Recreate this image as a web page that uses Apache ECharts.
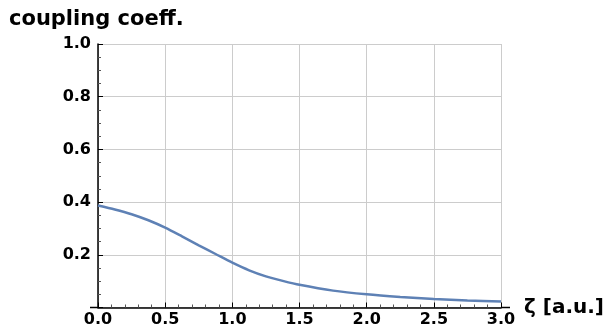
<!DOCTYPE html>
<html>
<head>
<meta charset="utf-8">
<script src="https://cdn.jsdelivr.net/npm/echarts@6/dist/echarts.min.js"></script>
<style>
html,body{margin:0;padding:0;background:#fff;}
#chart{width:607px;height:335px;}
</style>
</head>
<body>
<div id="chart"></div>
<script>
const xVals = [0, 0.125, 0.25, 0.375, 0.5, 0.625, 0.75, 0.875, 1.0, 1.125, 1.25, 1.375, 1.5, 1.75, 2.0, 2.25, 2.5, 2.75, 3.0];
const yVals = [0.387, 0.372, 0.354, 0.331, 0.303, 0.270, 0.236, 0.203, 0.170, 0.141, 0.118, 0.101, 0.086, 0.064, 0.050, 0.040, 0.032, 0.027, 0.023];
const titleText = 'coupling coeff.';
const xName = 'ζ [a.u.]';

const FONT = 'DejaVu Sans';
const chart = echarts.init(document.getElementById('chart'), null, {renderer: 'canvas'});
const data = xVals.map((x, i) => [x, yVals[i]]);

const option = {
  animation: false,
  backgroundColor: '#fff',
  title: {
    text: titleText,
    left: 9, top: 9, padding: 0,
    textStyle: {fontFamily: FONT, fontWeight: 'bold', fontSize: 21, color: '#000'}
  },
  grid: {left: 98, right: 104, top: 44, bottom: 27.5, containLabel: false},
  xAxis: {
    type: 'value', min: 0, max: 3, interval: 0.5,
    name: xName, nameLocation: 'end', nameGap: 23,
    nameTextStyle: {fontFamily: FONT, fontWeight: 'bold', fontSize: 20, color: '#000', verticalAlign: 'middle'},
    axisLine: {show: true, onZero: false, lineStyle: {color: '#000', width: 1.5}},
    axisTick: {show: true, inside: true, length: 5, lineStyle: {color: '#000', width: 1}},
    minorTick: {show: true, splitNumber: 5, length: 3, lineStyle: {color: '#555', width: 1}},
    axisLabel: {
      fontFamily: FONT, fontWeight: 'bold', fontSize: 16, color: '#000', margin: 4,
      formatter: v => v.toFixed(1)
    },
    splitLine: {show: true, lineStyle: {color: '#cccccc', width: 1}}
  },
  yAxis: {
    type: 'value', min: 0, max: 1.0, interval: 0.2,
    axisLine: {show: true, onZero: false, lineStyle: {color: '#000', width: 1.5}},
    axisTick: {show: true, inside: true, length: 5, lineStyle: {color: '#000', width: 1}},
    minorTick: {show: true, splitNumber: 4, length: 3, lineStyle: {color: '#555', width: 1}},
    axisLabel: {
      fontFamily: FONT, fontWeight: 'bold', fontSize: 16, color: '#000', margin: 7,
      formatter: v => (v === 0 ? '' : v.toFixed(1))
    },
    splitLine: {show: true, lineStyle: {color: '#cccccc', width: 1}}
  },
  series: [{
    type: 'line',
    data: data,
    smooth: 0.25,
    showSymbol: false,
    lineStyle: {color: '#5E81B5', width: 2.5},
    z: 5
  }]
};
chart.setOption(option);

// extend x-axis line slightly beyond the plotting range, as in the reference
const p0 = chart.convertToPixel({gridIndex: 0}, [0, 0]);
const p3 = chart.convertToPixel({gridIndex: 0}, [3, 0]);
chart.setOption({
  graphic: [
    {type: 'line', shape: {x1: p0[0] - 8, y1: p0[1], x2: p0[0], y2: p0[1]}, style: {stroke: '#000', lineWidth: 1.5}, z: 10},
    {type: 'line', shape: {x1: p3[0], y1: p3[1], x2: p3[0] + 9, y2: p3[1]}, style: {stroke: '#000', lineWidth: 1.5}, z: 10}
  ]
});
</script>
</body>
</html>
